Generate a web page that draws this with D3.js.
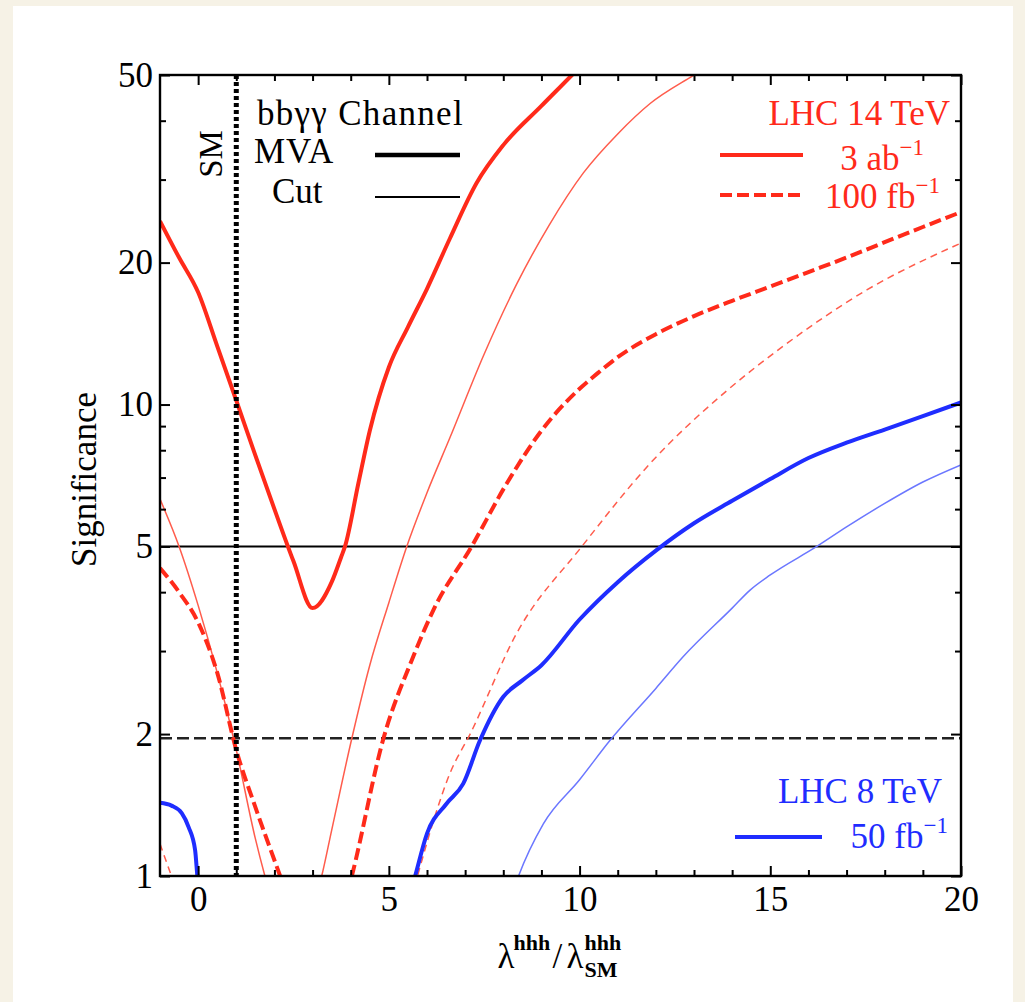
<!DOCTYPE html>
<html><head><meta charset="utf-8">
<script src="https://cdn.jsdelivr.net/npm/d3@7"></script>
<style>html,body{margin:0;padding:0;background:#f6f2e6;} svg{display:block;}</style>
</head><body>
<svg id="chart" width="1025" height="1002"></svg>
<script>
// ---------------- data ----------------
// LHC 14 TeV, 3 ab^-1, MVA (thick solid red)
const mva14_3ab_x = [-1, -0.5, 0, 0.5, 1, 1.5, 2, 2.5, 3, 3.5, 3.75, 3.85, 4.2, 4.5, 5, 5.5, 6, 6.6, 7.3, 8, 9, 9.8, 10.2];
const mva14_3ab_y = [24.5, 20.5, 17.3, 13.3, 10.2, 7.8, 6.0, 4.65, 3.7, 4.2, 4.75, 5.0, 6.8, 8.8, 12.0, 14.6, 17.6, 22.5, 29.5, 35.5, 43, 50, 54];
// LHC 14 TeV, 3 ab^-1, Cut (thin solid red), two branches
const cut14_3ab_left_x = [-1, -0.5, 0, 0.5, 1, 1.5, 1.75, 2.0];
const cut14_3ab_left_y = [6.3, 5.0, 3.75, 2.7, 1.85, 1.2, 1.0, 0.85];
const cut14_3ab_right_x = [3.0, 3.24, 3.5, 4.03, 4.5, 5, 5.47, 6, 6.6, 7.5, 8.35, 9.2, 10.1, 11, 11.85, 13, 13.5];
const cut14_3ab_right_y = [0.85, 1.0, 1.25, 1.96, 2.8, 3.8, 5.0, 6.5, 8.5, 12.8, 18, 24, 31, 37.5, 43.5, 50, 53];
// LHC 14 TeV, 100 fb^-1, MVA (thick dashed red)
const mva14_100fb_left_x = [-1, -0.5, 0, 0.5, 1, 1.5, 2, 2.15, 2.4];
const mva14_100fb_left_y = [4.5, 4.0, 3.45, 2.7, 1.85, 1.4, 1.08, 1.0, 0.88];
const mva14_100fb_right_x = [3.8, 4.03, 4.86, 5.64, 6.17, 7.17, 8.09, 9, 10, 10.5, 11, 12, 13, 14, 15, 16, 17, 18, 19, 20];
const mva14_100fb_right_y = [0.85, 1.0, 1.96, 2.92, 3.67, 5.0, 6.8, 8.8, 10.8, 11.7, 12.6, 14.1, 15.4, 16.6, 17.8, 19.1, 20.5, 22.1, 23.8, 25.6];
// LHC 14 TeV, 100 fb^-1, Cut (thin dashed red)
const cut14_100fb_left_x = [-1, -0.7, -0.5];
const cut14_100fb_left_y = [1.17, 1.0, 0.9];
const cut14_100fb_right_x = [5.5, 5.75, 6.17, 6.6, 7.13, 8.35, 10.06, 11.85, 13.86, 15.34, 17.53, 20];
const cut14_100fb_right_y = [0.85, 1.0, 1.31, 1.65, 2.0, 3.27, 5.0, 7.5, 10.7, 13.3, 17.5, 22];
// LHC 8 TeV, 50 fb^-1, MVA (thick solid blue)
const mva8_left_x = [-1, -0.7, -0.43, -0.25, -0.08, -0.03, 0.0];
const mva8_left_y = [1.43, 1.41, 1.36, 1.27, 1.135, 1.02, 0.95];
const mva8_right_x = [5.5, 5.69, 6.0, 6.5, 6.95, 7.39, 8.0, 8.5, 9.0, 10, 11, 12, 13, 14, 15, 16, 17, 18, 19, 20];
const mva8_right_y = [0.88, 1.0, 1.23, 1.42, 1.57, 1.94, 2.4, 2.6, 2.8, 3.5, 4.2, 4.9, 5.6, 6.25, 6.95, 7.7, 8.3, 8.85, 9.45, 10.1];
// LHC 8 TeV, 50 fb^-1, Cut (thin solid blue)
const cut8_x = [8.2, 8.4, 9.05, 10, 10.8, 12, 12.72, 14, 14.47, 15, 16.22, 17, 18, 19, 20];
const cut8_y = [0.9, 1.0, 1.29, 1.6, 1.94, 2.5, 2.92, 3.7, 4.04, 4.35, 5.0, 5.5, 6.17, 6.85, 7.45];

const xMajorTicks = [0, 5, 10, 15, 20];
const xMinorTicks = [1, 2, 3, 4, 6, 7, 8, 9, 11, 12, 13, 14, 16, 17, 18, 19];
const yMajorTicks = [1, 2, 5, 10, 20, 50];
const yMinorTicks = [3, 4, 6, 7, 8, 9, 30, 40];
const smLambda = 1;
const fiveSigma = 5;
const twoSigma = 1.96;

// ---------------- chart ----------------
const RED = "#ff2a1a", RED_THIN = "#ff5c4c", BLUE = "#1f2dff", BLUE_THIN = "#6b77ff";
const FONT = "'Liberation Serif','Times New Roman',serif";

const svg = d3.select("#chart");
svg.append("rect").attr("width", 1025).attr("height", 1002).attr("fill", "#f6f2e6");
svg.append("rect").attr("x", 13).attr("y", 6).attr("width", 1000).attr("height", 996).attr("fill", "#ffffff");

const m = {left: 160, right: 961, top: 75, bottom: 876};
const x = d3.scaleLinear().domain([-1, 20]).range([m.left, m.right]);
const y = d3.scaleLog().domain([1, 50]).range([m.bottom, m.top]);

svg.append("clipPath").attr("id", "plotclip").append("rect")
  .attr("x", m.left).attr("y", m.top).attr("width", m.right - m.left).attr("height", m.bottom - m.top);

const plot = svg.append("g").attr("clip-path", "url(#plotclip)");

// reference lines
plot.append("line").attr("x1", x(-1)).attr("x2", x(20)).attr("y1", y(fiveSigma)).attr("y2", y(fiveSigma))
  .attr("stroke", "#000").attr("stroke-width", 2);
plot.append("line").attr("x1", x(-1)).attr("x2", x(20)).attr("y1", y(twoSigma)).attr("y2", y(twoSigma))
  .attr("stroke", "#222").attr("stroke-width", 2.6).attr("stroke-dasharray", "12,5");

const zip = (xs, ys) => xs.map((v, i) => [v, ys[i]]);
const line = d3.line().x(d => x(d[0])).y(d => y(d[1])).curve(d3.curveMonotoneX);

const series = [
  {d: zip(cut14_3ab_left_x, cut14_3ab_left_y), c: RED_THIN, w: 1.5, dash: null},
  {d: zip(cut14_3ab_right_x, cut14_3ab_right_y), c: RED_THIN, w: 1.5, dash: null},
  {d: zip(cut14_100fb_left_x, cut14_100fb_left_y), c: RED_THIN, w: 1.5, dash: "7,5"},
  {d: zip(cut14_100fb_right_x, cut14_100fb_right_y), c: RED_THIN, w: 1.5, dash: "7,5"},
  {d: zip(cut8_x, cut8_y), c: BLUE_THIN, w: 1.5, dash: null},
  {d: zip(mva14_3ab_x, mva14_3ab_y), c: RED, w: 4, dash: null},
  {d: zip(mva14_100fb_left_x, mva14_100fb_left_y), c: RED, w: 4, dash: "12,5"},
  {d: zip(mva14_100fb_right_x, mva14_100fb_right_y), c: RED, w: 4, dash: "12,5"},
  {d: zip(mva8_left_x, mva8_left_y), c: BLUE, w: 4, dash: null},
  {d: zip(mva8_right_x, mva8_right_y), c: BLUE, w: 4, dash: null}
];
series.forEach(s => {
  plot.append("path").attr("d", line(s.d)).attr("fill", "none")
    .attr("stroke", s.c).attr("stroke-width", s.w)
    .attr("stroke-dasharray", s.dash).attr("stroke-linejoin", "round");
});

// SM vertical dotted line
plot.append("line").attr("x1", x(smLambda)).attr("x2", x(smLambda)).attr("y1", m.top).attr("y2", m.bottom)
  .attr("stroke", "#000").attr("stroke-width", 5).attr("stroke-dasharray", "4,3");

// axes with inward ticks
function styleAxis(g) {
  g.select(".domain").remove();
  g.selectAll(".tick line").attr("stroke", "#000").attr("stroke-width", 2);
  g.selectAll(".tick text").attr("fill", "#000").style("font-family", FONT).style("font-size", "35px");
}
svg.append("g").attr("transform", `translate(0,${m.bottom})`)
  .call(d3.axisBottom(x).tickValues(xMajorTicks).tickSizeInner(-10).tickSizeOuter(0).tickPadding(10).tickFormat(d3.format("d")))
  .call(styleAxis);
svg.append("g").attr("transform", `translate(0,${m.bottom})`)
  .call(d3.axisBottom(x).tickValues(xMinorTicks).tickSizeInner(-6).tickSizeOuter(0).tickFormat(""))
  .call(styleAxis);
svg.append("g").attr("transform", `translate(0,${m.top})`)
  .call(d3.axisTop(x).tickValues(xMajorTicks).tickSizeInner(-10).tickSizeOuter(0).tickFormat(""))
  .call(styleAxis);
svg.append("g").attr("transform", `translate(0,${m.top})`)
  .call(d3.axisTop(x).tickValues(xMinorTicks).tickSizeInner(-6).tickSizeOuter(0).tickFormat(""))
  .call(styleAxis);
svg.append("g").attr("transform", `translate(${m.left},0)`)
  .call(d3.axisLeft(y).tickValues(yMajorTicks).tickSizeInner(-10).tickSizeOuter(0).tickPadding(7).tickFormat(d3.format("d")))
  .call(styleAxis);
svg.append("g").attr("transform", `translate(${m.left},0)`)
  .call(d3.axisLeft(y).tickValues(yMinorTicks).tickSizeInner(-6).tickSizeOuter(0).tickFormat(""))
  .call(styleAxis);
svg.append("g").attr("transform", `translate(${m.right},0)`)
  .call(d3.axisRight(y).tickValues(yMajorTicks).tickSizeInner(-10).tickSizeOuter(0).tickFormat(""))
  .call(styleAxis);
svg.append("g").attr("transform", `translate(${m.right},0)`)
  .call(d3.axisRight(y).tickValues(yMinorTicks).tickSizeInner(-6).tickSizeOuter(0).tickFormat(""))
  .call(styleAxis);

// frame
svg.append("rect").attr("x", m.left).attr("y", m.top).attr("width", m.right - m.left).attr("height", m.bottom - m.top)
  .attr("fill", "none").attr("stroke", "#000").attr("stroke-width", 2.4);

// text helpers
function txt(parent, str, px, py, opts = {}) {
  return parent.append("text").attr("x", px).attr("y", py).text(str)
    .style("font-family", FONT).style("font-size", (opts.size || 35) + "px")
    .style("font-weight", opts.weight || "normal")
    .style("letter-spacing", opts.spacing || "normal")
    .attr("fill", opts.fill || "#000").attr("text-anchor", opts.anchor || "start");
}
function withSup(parent, base, sup, px, py, fill, anchor) {
  const t = parent.append("text").attr("x", px).attr("y", py).attr("fill", fill).attr("text-anchor", anchor || "end")
    .style("font-family", FONT).style("font-size", "35px");
  t.append("tspan").text(base);
  t.append("tspan").text(sup).attr("dy", -15).style("font-size", "23px");
  return t;
}

// y-axis title
svg.append("text").attr("transform", `translate(96,${(m.top + m.bottom) / 2 + 4}) rotate(-90)`)
  .attr("text-anchor", "middle").text("Significance")
  .style("font-family", FONT).style("font-size", "35px").attr("fill", "#000");

// x-axis title λ^hhh / λ^hhh_SM
const cx = (m.left + m.right) / 2;
const xt = svg.append("g");
txt(xt, "λ", cx - 63, 968);
txt(xt, "hhh", cx - 47, 950, {size: 22, weight: "bold"});
txt(xt, "/", cx - 8, 968);
txt(xt, "λ", cx + 6, 968);
txt(xt, "hhh", cx + 24, 950, {size: 22, weight: "bold"});
txt(xt, "SM", cx + 24, 977, {size: 22, weight: "bold"});

// SM label
svg.append("text").attr("transform", `translate(222,154) rotate(-90)`)
  .attr("text-anchor", "middle").text("SM")
  .style("font-family", FONT).style("font-size", "33px").attr("fill", "#000");

// channel legend (black)
txt(svg, "bbγγ Channel", 257, 125, {spacing: "1.3px"});
txt(svg, "MVA", 254, 163, {spacing: "1px"});
txt(svg, "Cut", 272, 203);
svg.append("line").attr("x1", 375).attr("x2", 460).attr("y1", 155).attr("y2", 155).attr("stroke", "#000").attr("stroke-width", 4.5);
svg.append("line").attr("x1", 375).attr("x2", 460).attr("y1", 197).attr("y2", 197).attr("stroke", "#000").attr("stroke-width", 1.8);

// LHC 14 TeV legend
txt(svg, "LHC 14 TeV", 950, 125, {fill: RED, anchor: "end"});
withSup(svg, "3 ab", "−1", 924, 170, RED);
withSup(svg, "100 fb", "−1", 940, 208, RED);
svg.append("line").attr("x1", 720).attr("x2", 803).attr("y1", 155).attr("y2", 155).attr("stroke", RED).attr("stroke-width", 4);
svg.append("line").attr("x1", 720).attr("x2", 803).attr("y1", 195).attr("y2", 195).attr("stroke", RED).attr("stroke-width", 4).attr("stroke-dasharray", "12,5");

// LHC 8 TeV legend
txt(svg, "LHC 8 TeV", 942, 803, {fill: BLUE, anchor: "end"});
withSup(svg, "50 fb", "−1", 948, 848, BLUE);
svg.append("line").attr("x1", 735).attr("x2", 822).attr("y1", 837).attr("y2", 837).attr("stroke", BLUE).attr("stroke-width", 4);
</script>
</body></html>
